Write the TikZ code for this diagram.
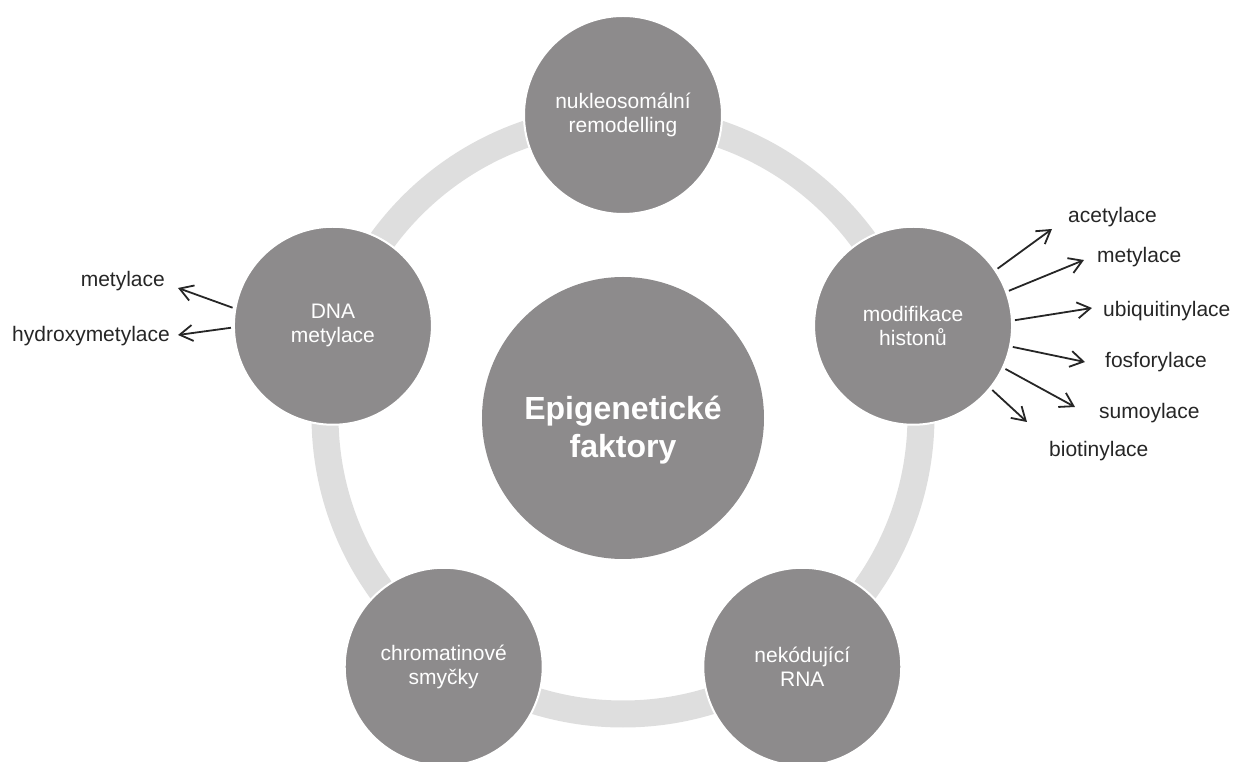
\documentclass[tikz,border=0pt]{standalone}
\usepackage{fontspec}
\setmainfont{Liberation Sans}
\usetikzlibrary{arrows.meta,positioning}
\definecolor{circgray}{RGB}{141,139,140}
\definecolor{ringgray}{RGB}{222,222,222}
\definecolor{labgray}{RGB}{38,38,38}

\begin{document}
\begin{tikzpicture}[x=1pt,y=1pt,>={Straight Barb[length=13pt,width=16pt]},
		base node/.style={circle,fill=circgray,draw=white,line width=2pt,minimum size=198pt,
			inner sep=0pt,align=center,text=white,font=\fontsize{21}{24}\selectfont},
		main node/.style={circle,fill=circgray,minimum size=282pt,inner sep=0pt},
		main text/.style={align=center,text=white,yshift=-12pt,
			font=\fontsize{32}{38}\selectfont\bfseries},
		side label/.style={inner sep=0pt,text=labgray,font=\fontsize{21}{24}\selectfont},
		branch/.style={->,color=labgray,line width=1.8pt,shorten <=2pt}]

		\useasboundingbox (-623,-342) rectangle (614,420);

		% ring behind the circles
		\draw[ringgray,line width=27pt] (0,4) circle (298);

		\node[main node,label={[main text]center:{Epigenetické\\faktory}}] (epi) at (0,2) {};
		\node[base node] (remod) at (90:305) {nukleosomální\\remodelling};
		\node[base node] (hist) at (18:305) {modifikace\\histonů};
		\node[base node] (rna) at (306:305) {nekódující\\RNA};
		\node[base node] (loops) at (234:305) {chromatinové\\smyčky};
		\node[base node] (dna) at (162:305) {DNA\\metylace};

		% histone modifications
		\node[side label,anchor=base west] (acet) at (445,197) {acetylace};
		\node[side label,anchor=base west] (hmet) at (474,157) {metylace};
		\node[side label,anchor=base west] (ubiq) at (480,103) {ubiquitinylace};
		\node[side label,anchor=base west] (fosf) at (482,52) {fosforylace};
		\node[side label,anchor=base west] (sumo) at (476,1) {sumoylace};
		\node[side label,anchor=base west] (biot) at (426,-37) {biotinylace};
		\coordinate (acet tip) at (429,191);
		\coordinate (hmet tip) at (461,160);
		\coordinate (ubiq tip) at (469,112);
		\coordinate (fosf tip) at (462,58);
		\coordinate (sumo tip) at (452,13);
		\coordinate (biot tip) at (404,-2);
		\path[branch]
		(hist.34) edge (acet tip)
		(hist.20) edge (hmet tip)
		(hist.3) edge (ubiq tip)
		(hist.-12) edge (fosf tip)
		(hist.-25) edge (sumo tip)
		(hist.-39) edge (biot tip);

		% DNA methylation
		\node[side label,anchor=base east] (dmet) at (-458,133) {metylace};
		\node[side label,anchor=base east] (hydr) at (-453,78) {hydroxymetylace};
		\coordinate (dmet tip) at (-445,132);
		\coordinate (hydr tip) at (-445,85);
		\path[branch]
		(dna.170) edge (dmet tip)
		(dna.181) edge (hydr tip);

\end{tikzpicture}
\end{document}
